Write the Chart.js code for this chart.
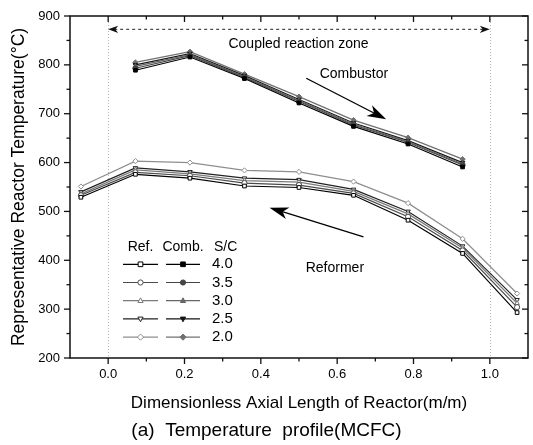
<!DOCTYPE html>
<html>
<head>
<meta charset="utf-8">
<script src="https://cdn.jsdelivr.net/npm/chart.js@4/dist/chart.umd.min.js"></script>
<style>
html,body{margin:0;padding:0;background:#fff;}
canvas{display:block;}
</style>
</head>
<body>
<canvas id="c" width="533" height="445"></canvas>
<script>
// ---------------- data ----------------
const xRef  = [-0.0714, 0.0714, 0.2143, 0.3571, 0.5, 0.6429, 0.7857, 0.9286, 1.0714];
const xComb = [0.0714, 0.2143, 0.3571, 0.5, 0.6429, 0.7857, 0.9286];
const scRatios = ['4.0', '3.5', '3.0', '2.5', '2.0'];

// Reformer temperatures (deg C) per S/C
const ref40 = [529, 576, 568, 552, 549, 533, 482, 414, 293];
const ref35 = [533, 580, 573, 558, 554, 537, 489, 420, 304];
const ref30 = [536, 585, 577, 563, 560, 541, 495, 425, 312];
const ref25 = [540, 589, 581, 568, 565, 545, 500, 429, 319];
const ref20 = [551, 603, 600, 584, 581, 561, 517, 444, 332];

// Combustor temperatures (deg C) per S/C
const comb40 = [789, 816, 772, 722, 674, 638, 591];
const comb35 = [793, 819, 774, 725, 677, 641, 595];
const comb30 = [797, 821, 776, 727, 679, 643, 597];
const comb25 = [800, 823, 778, 729, 681, 645, 600];
const comb20 = [805, 827, 781, 735, 687, 651, 607];

const xTickLabels = [0.0, 0.2, 0.4, 0.6, 0.8, 1.0];
const xMinorTicks = [0.1, 0.3, 0.5, 0.7, 0.9];
const yTickLabels = [200, 300, 400, 500, 600, 700, 800, 900];
const yMinorTicks = [250, 350, 450, 550, 650, 750, 850];
const zoneBounds  = [0.0, 1.0];

const refSeries  = [ref40, ref35, ref30, ref25, ref20];
const combSeries = [comb40, comb35, comb30, comb25, comb20];

// ---------------- styles ----------------
const FONT = "'Liberation Sans', Arial, Helvetica, sans-serif";
const lineColors = ['#000000', '#4a4a4a', '#7a7a7a', '#222222', '#8e8e8e'];
const combColors = ['#000000', '#454545', '#666666', '#151515', '#707070'];
const markers = [
  {style: 'rect', rot: 0},
  {style: 'circle', rot: 0},
  {style: 'triangle', rot: 0},
  {style: 'triangle', rot: 180},
  {style: 'rectRot', rot: 0}
];

function toPts(xs, ys) { return xs.map((x, i) => ({x: x, y: ys[i]})); }

const datasets = [];
scRatios.forEach((sc, i) => {
  datasets.push({
    label: 'Ref. S/C ' + sc,
    data: toPts(xRef, refSeries[i]),
    borderColor: lineColors[i],
    backgroundColor: '#ffffff',
    pointBackgroundColor: '#ffffff',
    pointBorderColor: lineColors[i],
    pointStyle: markers[i].style,
    pointRotation: markers[i].rot,
    pointRadius: 2.6,
    pointBorderWidth: 1,
    borderWidth: 1.2,
    tension: 0,
    fill: false
  });
});
scRatios.forEach((sc, i) => {
  datasets.push({
    label: 'Comb. S/C ' + sc,
    data: toPts(xComb, combSeries[i]),
    borderColor: combColors[i],
    backgroundColor: combColors[i],
    pointBackgroundColor: combColors[i],
    pointBorderColor: combColors[i],
    pointStyle: markers[i].style,
    pointRotation: markers[i].rot,
    pointRadius: 2.6,
    pointBorderWidth: 1,
    borderWidth: 1.2,
    tension: 0,
    fill: false
  });
});

// ---------------- helpers ----------------
function drawMarker(ctx, style, rot, x, y, r, fill, stroke) {
  ctx.save();
  ctx.translate(x, y);
  ctx.rotate(rot * Math.PI / 180);
  ctx.beginPath();
  if (style === 'rect') {
    ctx.rect(-r * 0.9, -r * 0.9, r * 1.8, r * 1.8);
  } else if (style === 'circle') {
    ctx.arc(0, 0, r, 0, Math.PI * 2);
  } else if (style === 'triangle') {
    ctx.moveTo(0, -r * 1.1);
    ctx.lineTo(r * 1.0, r * 0.7);
    ctx.lineTo(-r * 1.0, r * 0.7);
    ctx.closePath();
  } else if (style === 'rectRot') {
    ctx.moveTo(0, -r * 1.2);
    ctx.lineTo(r * 1.2, 0);
    ctx.lineTo(0, r * 1.2);
    ctx.lineTo(-r * 1.2, 0);
    ctx.closePath();
  }
  ctx.fillStyle = fill;
  ctx.fill();
  ctx.lineWidth = 1;
  ctx.strokeStyle = stroke;
  ctx.stroke();
  ctx.restore();
}

function arrowHead(ctx, tx, ty, fx, fy, len, half) {
  const ang = Math.atan2(ty - fy, tx - fx);
  ctx.save();
  ctx.translate(tx, ty);
  ctx.rotate(ang);
  ctx.beginPath();
  ctx.moveTo(0, 0);
  ctx.lineTo(-len, -half);
  ctx.lineTo(-len * 0.72, 0);
  ctx.lineTo(-len, half);
  ctx.closePath();
  ctx.fill();
  ctx.restore();
}

// ---------------- annotations (data coordinates) ----------------
const annot = {
  zoneArrowY: 872.8,
  zoneText: {x: 0.4987, y: 842.7, text: 'Coupled reaction zone'},
  combText: {x: 0.644, y: 781.3, text: 'Combustor'},
  combArrow: {x1: 0.519, y1: 772.5, x2: 0.7285, y2: 688.6},
  refText: {x: 0.594, y: 384.2, text: 'Reformer'},
  refArrow: {x1: 0.669, y1: 447.7, x2: 0.4228, y2: 507.7}
};

const overlay = {
  id: 'overlay',
  beforeDatasetsDraw(chart) {
    const {ctx, chartArea: a, scales: {x}} = chart;
    ctx.save();
    ctx.strokeStyle = '#b4b4b4';
    ctx.lineWidth = 1;
    ctx.setLineDash([1, 2]);
    zoneBounds.forEach(v => {
      const px = Math.round(x.getPixelForValue(v)) + 0.5;
      ctx.beginPath();
      ctx.moveTo(px, a.top);
      ctx.lineTo(px, a.bottom);
      ctx.stroke();
    });
    ctx.restore();
  },
  afterDraw(chart) {
    const {ctx, chartArea: a, scales: {x, y}} = chart;
    ctx.save();
    // frame
    ctx.strokeStyle = '#111';
    ctx.lineWidth = 1.5;
    ctx.strokeRect(a.left, a.top, a.right - a.left, a.bottom - a.top);
    // ticks
    ctx.lineWidth = 1.3;
    const seg = (x1, y1, x2, y2) => { ctx.beginPath(); ctx.moveTo(x1, y1); ctx.lineTo(x2, y2); ctx.stroke(); };
    xTickLabels.forEach(v => {
      const px = x.getPixelForValue(v);
      seg(px, a.bottom, px, a.bottom + 6);
      seg(px, a.top, px, a.top + 6);
    });
    xMinorTicks.forEach(v => {
      const px = x.getPixelForValue(v);
      seg(px, a.bottom, px, a.bottom + 3.5);
      seg(px, a.top, px, a.top + 3.5);
    });
    yTickLabels.forEach(v => {
      const py = y.getPixelForValue(v);
      seg(a.left - 6, py, a.left, py);
      seg(a.right - 6, py, a.right, py);
    });
    yMinorTicks.forEach(v => {
      const py = y.getPixelForValue(v);
      seg(a.left - 3.5, py, a.left, py);
      seg(a.right - 3.5, py, a.right, py);
    });

    // coupled reaction zone dashed double arrow
    const zy = y.getPixelForValue(annot.zoneArrowY);
    const zx0 = x.getPixelForValue(zoneBounds[0]);
    const zx1 = x.getPixelForValue(zoneBounds[1]);
    ctx.strokeStyle = '#222';
    ctx.fillStyle = '#111';
    ctx.lineWidth = 1;
    ctx.setLineDash([3, 3]);
    seg(zx0 + 6, zy, zx1 - 6, zy);
    ctx.setLineDash([]);
    arrowHead(ctx, zx1, zy, zx0, zy, 10, 3.6);
    arrowHead(ctx, zx0, zy, zx1, zy, 10, 3.6);

    // texts
    ctx.fillStyle = '#000';
    ctx.textAlign = 'center';
    ctx.textBaseline = 'middle';
    ctx.font = '14px ' + FONT;
    [annot.zoneText, annot.combText, annot.refText].forEach(t => {
      ctx.fillText(t.text, x.getPixelForValue(t.x), y.getPixelForValue(t.y));
    });

    // arrows
    ctx.strokeStyle = '#000';
    ctx.fillStyle = '#000';
    ctx.lineWidth = 1.3;
    [annot.combArrow, annot.refArrow].forEach(ar => {
      const x1 = x.getPixelForValue(ar.x1), y1 = y.getPixelForValue(ar.y1);
      const x2 = x.getPixelForValue(ar.x2), y2 = y.getPixelForValue(ar.y2);
      const ang = Math.atan2(y2 - y1, x2 - x1);
      seg(x1, y1, x2 - Math.cos(ang) * 10, y2 - Math.sin(ang) * 10);
      arrowHead(ctx, x2, y2, x1, y1, 19, 6);
    });

    // legend
    const lx0 = a.left + 53, lx1 = a.left + 88;   // Ref line
    const cx0 = a.left + 96, cx1 = a.left + 130;  // Comb line
    const tx = a.left + 142;
    const hy = a.top + 230.7;
    ctx.font = '14px ' + FONT;
    ctx.fillStyle = '#000';
    ctx.textBaseline = 'middle';
    ctx.textAlign = 'center';
    ctx.fillText('Ref.', (lx0 + lx1) / 2, hy);
    ctx.fillText('Comb.', (cx0 + cx1) / 2, hy);
    ctx.textAlign = 'left';
    ctx.fillText('S/C', tx + 2, hy);
    scRatios.forEach((sc, i) => {
      const ry = hy + 17.6 + i * 18.2;
      ctx.lineWidth = 1.2;
      ctx.strokeStyle = lineColors[i];
      seg(lx0, ry, lx1, ry);
      drawMarker(ctx, markers[i].style, markers[i].rot, (lx0 + lx1) / 2, ry, 2.6, '#fff', lineColors[i]);
      ctx.strokeStyle = combColors[i];
      seg(cx0, ry, cx1, ry);
      drawMarker(ctx, markers[i].style, markers[i].rot, (cx0 + cx1) / 2, ry, 2.6, combColors[i], combColors[i]);
      ctx.fillStyle = '#000';
      ctx.textAlign = 'left';
      ctx.font = '15px ' + FONT;
      ctx.fillText(sc, tx, ry);
    });
    ctx.restore();
  }
};

Chart.defaults.font.family = FONT;
Chart.defaults.color = '#000';

new Chart(document.getElementById('c'), {
  type: 'line',
  data: {datasets: datasets},
  options: {
    responsive: false,
    animation: false,
    devicePixelRatio: 1,
    layout: {padding: {top: 16, right: 0, bottom: 0, left: 0}},
    plugins: {
      legend: {display: false},
      tooltip: {enabled: false},
      title: {
        display: true,
        position: 'bottom',
        text: '(a)  Temperature  profile(MCFC)',
        color: '#000',
        font: {size: 19, weight: 'normal', family: FONT},
        padding: {top: 0, bottom: 3}
      }
    },
    scales: {
      x: {
        type: 'linear',
        min: -0.1,
        max: 1.1,
        grid: {display: false, drawTicks: true, tickLength: 6},
        border: {display: false},
        afterBuildTicks: s => { s.ticks = xTickLabels.map(v => ({value: v})); },
        afterFit: s => { s.height = 61.2; },
        ticks: {
          font: {size: 13},
          color: '#000',
          padding: 3,
          maxRotation: 0,
          callback: v => Number(v).toFixed(1)
        },
        title: {
          display: true,
          text: 'Dimensionless Axial Length of Reactor(m/m)',
          font: {size: 17},
          color: '#000',
          padding: {top: 0, bottom: 6}
        }
      },
      y: {
        type: 'linear',
        min: 200,
        max: 900,
        grid: {display: false, drawTicks: true, tickLength: 6},
        border: {display: false},
        afterBuildTicks: s => { s.ticks = yTickLabels.map(v => ({value: v})); },
        afterFit: s => { s.width = 70; },
        ticks: {
          font: {size: 13},
          color: '#000',
          padding: 4,
          callback: v => String(v)
        },
        title: {
          display: true,
          text: 'Representative Reactor Temperature(°C)',
          font: {size: 17.5},
          color: '#000',
          padding: {top: 8.5, bottom: 0}
        }
      }
    }
  },
  plugins: [overlay]
});
</script>
</body>
</html>
